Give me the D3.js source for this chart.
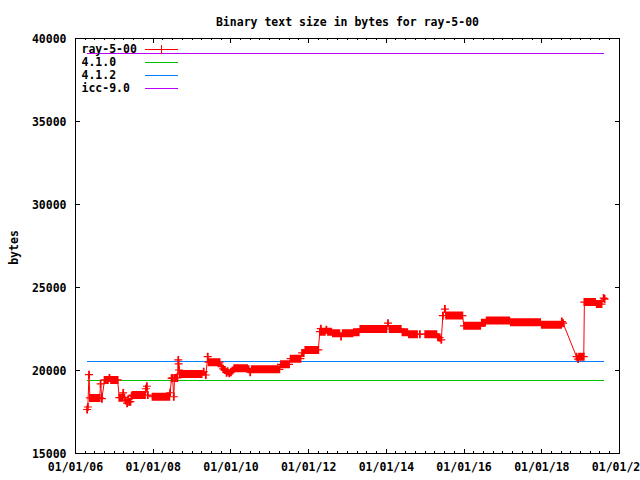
<!DOCTYPE html>
<html><head><meta charset="utf-8">
<script src="https://cdn.jsdelivr.net/npm/d3@7"></script>
<style>
body{margin:0;background:#fff}
svg text{font-family:"DejaVu Sans Mono",monospace;font-weight:bold;font-size:11.5px;fill:#000}
</style>
</head><body><svg id="c" width="640" height="480"></svg>
<script>
const title = "Binary text size in bytes for ray-5-00";
const yLabel = "bytes";
const seriesName = "ray-5-00";
const seriesColor = "#ff0000";
const dates = [
"2006-04-20","2006-04-27","2006-05-08","2006-05-16","2006-06-01","2006-06-16","2006-07-01","2006-07-16","2006-08-01","2006-08-16","2006-08-25","2006-09-06","2006-10-01","2006-10-16","2006-11-01","2006-11-16","2006-12-01","2006-12-16",
"2007-01-01","2007-01-16","2007-02-01","2007-02-16","2007-03-01","2007-03-16","2007-03-25","2007-04-05","2007-04-16","2007-05-01","2007-05-10","2007-05-20","2007-06-01","2007-06-12","2007-06-20","2007-07-01","2007-07-16","2007-08-01","2007-08-16","2007-09-01","2007-09-16","2007-10-01","2007-10-16","2007-10-25","2007-11-03","2007-11-12","2007-12-26",
"2008-01-01","2008-01-16","2008-02-01","2008-02-16","2008-03-01","2008-03-16","2008-04-01","2008-04-16","2008-05-01","2008-05-16","2008-06-01","2008-06-08","2008-06-22","2008-07-01","2008-07-13","2008-07-20","2008-08-01","2008-08-16","2008-08-24","2008-08-27","2008-08-31","2008-09-08","2008-09-16","2008-10-01","2008-10-16","2008-11-01","2008-11-16","2008-12-01","2008-12-16",
"2009-01-01","2009-01-16","2009-02-01","2009-02-16","2009-03-01","2009-03-16","2009-04-01","2009-04-20","2009-05-10","2009-05-28","2009-06-05","2009-06-16","2009-07-01","2009-07-16","2009-08-01","2009-08-16","2009-09-01","2009-09-16","2009-10-05","2009-10-20","2009-11-05","2009-11-21","2009-12-01","2009-12-16",
"2010-01-01","2010-01-16","2010-02-01","2010-02-16","2010-03-01","2010-03-16","2010-04-01","2010-04-16","2010-05-01","2010-05-16","2010-06-01","2010-06-16","2010-07-01","2010-07-16","2010-08-01","2010-08-16","2010-09-01","2010-09-16","2010-10-01","2010-10-16","2010-11-01","2010-11-16","2010-12-01","2010-12-16",
"2011-01-01","2011-01-16","2011-02-01","2011-02-16","2011-03-01","2011-03-16","2011-04-01","2011-04-16","2011-05-01","2011-05-16","2011-06-01","2011-06-16","2011-07-01","2011-07-16","2011-08-01","2011-08-16","2011-09-01","2011-09-16","2011-10-01","2011-10-16","2011-11-01","2011-11-16","2011-12-01","2011-12-16",
"2012-01-01","2012-01-16","2012-02-01","2012-02-16","2012-03-01","2012-03-16","2012-04-01","2012-04-16","2012-04-25","2012-05-01","2012-05-16","2012-06-01","2012-06-16","2012-07-01","2012-07-16","2012-08-01","2012-08-16","2012-09-01","2012-09-16","2012-10-01","2012-10-16","2012-11-01","2012-11-16","2012-12-01","2012-12-16",
"2013-01-01","2013-01-16","2013-02-01","2013-02-16","2013-03-01","2013-03-16","2013-04-01","2013-04-16","2013-05-01","2013-05-16","2013-06-01","2013-06-16","2013-07-01","2013-07-16","2013-08-01","2013-08-16","2013-09-01","2013-09-16","2013-10-01","2013-10-16","2013-11-01","2013-11-16","2013-12-01","2013-12-16",
"2014-01-01","2014-01-16","2014-02-01","2014-02-16","2014-03-01","2014-03-16","2014-04-01","2014-04-16","2014-05-01","2014-05-16","2014-06-01","2014-06-16","2014-07-01","2014-07-16","2014-08-01","2014-08-16","2014-09-01","2014-09-16","2014-10-01","2014-10-16","2014-11-12",
"2015-01-01","2015-01-16","2015-02-01","2015-02-16","2015-03-01","2015-03-16","2015-04-01","2015-04-16","2015-05-01","2015-05-16","2015-06-01","2015-06-16","2015-07-05","2015-07-16","2015-08-01","2015-08-16","2015-09-01","2015-09-16","2015-10-01","2015-10-16","2015-11-01","2015-11-16","2015-12-01","2015-12-16",
"2016-01-01","2016-01-16","2016-02-01","2016-02-16","2016-03-01","2016-03-16","2016-04-01","2016-04-16","2016-05-01","2016-05-16","2016-06-01","2016-06-16","2016-07-01","2016-07-16","2016-08-01","2016-08-16","2016-09-01","2016-09-16","2016-10-01","2016-10-16","2016-11-01","2016-11-16","2016-12-01","2016-12-16",
"2017-01-01","2017-01-16","2017-02-01","2017-02-16","2017-03-01","2017-03-16","2017-04-01","2017-04-16","2017-05-01","2017-05-16","2017-06-01","2017-06-16","2017-07-01","2017-07-16","2017-08-01","2017-08-16","2017-09-01","2017-09-16","2017-10-01","2017-10-16","2017-11-01","2017-11-16","2017-12-01","2017-12-16",
"2018-01-01","2018-01-16","2018-02-01","2018-02-16","2018-03-01","2018-03-16","2018-04-01","2018-04-16","2018-05-01","2018-05-16","2018-06-01","2018-06-16","2018-07-01","2018-07-08","2018-07-20","2018-11-23","2018-12-08","2018-12-16",
"2019-01-01","2019-01-16","2019-01-30","2019-02-05","2019-02-16","2019-03-01","2019-03-16","2019-04-01","2019-04-16","2019-05-01","2019-05-16","2019-06-01","2019-06-16","2019-07-01","2019-07-16","2019-08-05","2019-08-14"
];
const sizes = [
17650,17800,19750,18350,18350,18350,18350,18350,18350,18350,19200,18300,19430,19430,19430,19550,19430,19430,
19430,19430,19430,18360,18360,18360,18650,18360,18200,18030,18260,18100,18120,18450,18520,18520,18520,18520,18520,18520,18520,18520,18520,18900,19050,18520,18420,
18420,18420,18420,18420,18420,18420,18420,18420,18420,18420,18420,18660,19530,19550,18420,19550,19550,19550,20640,20400,20030,19790,19790,19790,19790,19790,19790,19790,19790,
19790,19790,19790,19790,19790,19790,19790,19930,19730,20830,20500,20500,20500,20500,20500,20500,20500,20500,20230,20100,20030,19870,19950,19830,
19900,20000,20130,20130,20130,20130,20130,20130,20130,20130,20130,20070,19900,20070,20070,20070,20070,20070,20070,20070,20070,20070,20070,20070,
20070,20070,20070,20070,20070,20070,20070,20370,20370,20370,20370,20370,20370,20710,20710,20710,20710,20710,20710,20710,21060,21060,21240,21240,
21240,21240,21240,21240,21240,21240,21240,22340,22520,22340,22340,22340,22450,22340,22340,22340,22250,22250,22250,22250,22250,22050,22250,22250,22250,
22250,22250,22250,22250,22300,22300,22300,22300,22500,22500,22500,22500,22500,22500,22500,22500,22500,22500,22500,22500,22500,22500,22500,22500,
22500,22850,22500,22500,22500,22500,22500,22500,22500,22500,22310,22310,22310,22310,22190,22190,22190,22190,22190,22190,22190,
22190,22190,22190,22190,22190,22190,22190,22190,22000,21980,21850,23300,23700,23310,23310,23310,23310,23310,23310,23310,23310,23310,23310,23310,
22690,22690,22690,22690,22690,22690,22690,22690,22690,22690,22690,22870,22870,22870,23010,23010,23010,23010,23010,23010,23010,23010,23010,23010,
23010,23010,23010,23010,23010,22910,22910,22910,22910,22910,22910,22910,22910,22910,22910,22910,22910,22910,22910,22910,22910,22910,22910,22910,
22750,22750,22750,22750,22750,22750,22750,22750,22750,22750,22750,22750,22750,22950,22850,20830,20690,20830,
20830,20830,20830,24120,24120,24120,24120,24120,24120,24120,24120,24000,24000,24000,24000,24360,24300
];
const refNames = ["4.1.0", "4.1.2", "icc-9.0"];
const refValues = [19410, 20554, 39070];
const refColors = ["#00c000", "#0080ff", "#c000ff"];
const xDomain = ["2006-01-01", "2020-01-01"];
const yDomain = [15000, 40000];
const yTickValues = [15000, 20000, 25000, 30000, 35000, 40000];

const parse = d3.timeParse("%Y-%m-%d");
const data = dates.map((d, i) => ({date: parse(d), v: sizes[i]}));

const L = 75, R = 619, T = 38, B = 453;
const svg = d3.select("#c");
const x = d3.scaleTime().domain(xDomain.map(parse)).range([L, R]);
const y = d3.scaleLinear().domain(yDomain).range([B, T]);
const snap = v => Math.round(v) + 0.5;

const majorX = d3.timeYear.every(2).range(parse("2006-01-01"), parse("2020-01-02"));
const minorX = d3.timeMonth.every(3).range(parse("2006-01-01"), parse("2020-01-02"));
const fmt = d3.timeFormat("%m/%d/%y");

// Minor ticks bottom & top
svg.append("g").attr("transform", `translate(0,${B})`)
  .call(d3.axisBottom(x).tickValues(minorX).tickSize(-2).tickFormat("").offset(0.5))
  .call(g => g.select(".domain").remove());
svg.append("g").attr("transform", `translate(0,${T})`)
  .call(d3.axisTop(x).tickValues(minorX).tickSize(-2).tickFormat("").offset(0.5))
  .call(g => g.select(".domain").remove());
// Major ticks bottom with labels
svg.append("g").attr("transform", `translate(0,${B})`)
  .call(d3.axisBottom(x).tickValues(majorX).tickSize(-4.5).tickFormat(fmt).offset(0.5))
  .call(g => g.select(".domain").remove())
  .call(g => g.selectAll("text").attr("y", 17.5).attr("dy", null));
svg.append("g").attr("transform", `translate(0,${T})`)
  .call(d3.axisTop(x).tickValues(majorX).tickSize(-4.5).tickFormat("").offset(0.5))
  .call(g => g.select(".domain").remove());
// Y axes
svg.append("g").attr("transform", `translate(${L},0)`)
  .call(d3.axisLeft(y).tickValues(yTickValues).tickSize(-4.5).tickPadding(8.5).tickFormat(d3.format("d")).offset(0.5))
  .call(g => g.select(".domain").remove())
  .call(g => g.selectAll("text").attr("dy", "0.36em"));
svg.append("g").attr("transform", `translate(${R},0)`)
  .call(d3.axisRight(y).tickValues(yTickValues).tickSize(-4.5).tickFormat("").offset(0.5))
  .call(g => g.select(".domain").remove());
svg.selectAll(".tick line").attr("stroke", "#000").attr("shape-rendering", "crispEdges");

// Border
svg.append("rect").attr("x", L + 0.5).attr("y", T + 0.5).attr("width", R - L).attr("height", B - T)
  .attr("fill", "none").attr("stroke", "#000").attr("shape-rendering", "crispEdges");

// Title & y label
svg.append("text").attr("x", (L + R) / 2 + 0.5).attr("y", 26).attr("text-anchor", "middle").text(title);
svg.append("text").attr("transform", "translate(17.5,247.5) rotate(-90)").attr("text-anchor", "middle").text(yLabel);

// Reference lines (snapped to pixel rows)
const xExt = d3.extent(data, d => d.date);
refValues.forEach((v, i) => {
  svg.append("line")
    .attr("x1", Math.round(x(xExt[0]))).attr("x2", Math.round(x(xExt[1])))
    .attr("y1", snap(y(v))).attr("y2", snap(y(v)))
    .attr("stroke", refColors[i]).attr("stroke-width", 1).attr("shape-rendering", "crispEdges");
});

const plot = svg.append("g").attr("transform", "translate(0.5,0.5)");
const line = d3.line().x(d => x(d.date)).y(d => y(d.v));
// Series line
plot.append("path").attr("d", line(data)).attr("stroke", seriesColor).attr("fill", "none").attr("stroke-width", 1);
// Markers: horizontal and vertical arms
plot.append("path")
  .attr("d", data.map(d => `M${x(d.date)-4},${y(d.v)}h8`).join(""))
  .attr("stroke", seriesColor).attr("fill", "none").attr("stroke-width", 1.2);
plot.append("path")
  .attr("d", data.map(d => `M${x(d.date)},${y(d.v)-4}v8`).join(""))
  .attr("stroke", seriesColor).attr("fill", "none").attr("stroke-width", 1.8);

// Legend
const legendNames = [seriesName].concat(refNames);
const legendColors = [seriesColor].concat(refColors);
const key = svg.append("g");
legendNames.forEach((n, i) => {
  const by = 52.5 + i * 13.33;
  const ly = Math.round(by - 4) + 0.5;
  key.append("text").attr("x", 81.5).attr("y", by).text(n);
  key.append("line").attr("x1", 145).attr("x2", 178).attr("y1", ly).attr("y2", ly)
    .attr("stroke", legendColors[i]).attr("stroke-width", 1).attr("shape-rendering", "crispEdges");
  if (i === 0) {
    key.append("path").attr("d", `M157,${ly}h9M161.5,${ly-4.5}v9`)
      .attr("stroke", seriesColor).attr("fill", "none").attr("shape-rendering", "crispEdges");
  }
});
</script>
</body></html>
